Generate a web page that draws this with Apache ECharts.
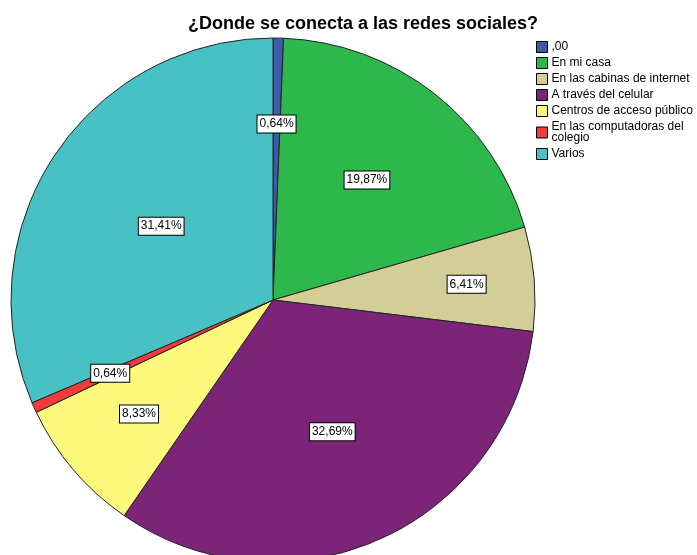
<!DOCTYPE html>
<html>
<head>
<meta charset="utf-8">
<script src="https://cdn.jsdelivr.net/npm/echarts@6/dist/echarts.min.js"></script>
<style>
  html, body { margin: 0; padding: 0; background: #fff; }
  #main { width: 697px; height: 555px; }
</style>
</head>
<body>
<div id="main"></div>
<script>
// categorias y porcentajes
var categorias = [',00', 'En mi casa', 'En las cabinas de internet', 'A través del celular',
  'Centros de acceso público', 'En las computadoras del colegio', 'Varios'];
var porcentajes = [0.64, 19.87, 6.41, 32.69, 8.33, 0.64, 31.41];
var colores = ['#3D5BA8', '#2DB84B', '#D3CD98', '#7B2478', '#FBF87C', '#EF3B3B', '#48C1C4'];
// distancia de la etiqueta al centro (fraccion del radio)
var distEtiqueta = [0.66, 0.57, 0.73, 0.54, 0.66, 0.67, 0.50];

var R = 262;
var myChart = echarts.init(document.getElementById('main'));

var total = porcentajes.reduce(function (a, b) { return a + b; }, 0);
var acum = 0;
var datos = categorias.map(function (c, i) {
  var mid = (acum + porcentajes[i] / 2) / total * Math.PI * 2;
  acum += porcentajes[i];
  var extra = (distEtiqueta[i] - 0.5) * R;
  return {
    name: c,
    value: porcentajes[i],
    itemStyle: { color: colores[i] },
    label: { offset: [extra * Math.sin(mid), -extra * Math.cos(mid)] }
  };
});

myChart.setOption({
  animation: false,
  title: {
    text: '¿Donde se conecta a las redes sociales?',
    left: 358,
    textAlign: 'center',
    top: 10,
    textStyle: { fontSize: 18, fontWeight: 'bold', color: '#000', fontFamily: 'Arial, Liberation Sans' }
  },
  legend: {
    orient: 'vertical',
    left: 531,
    top: 36,
    itemWidth: 11,
    itemHeight: 11,
    itemGap: 4,
    icon: 'rect',
    itemStyle: { borderColor: '#000', borderWidth: 1 },
    formatter: function (n) {
      return n === 'En las computadoras del colegio' ? 'En las computadoras del\ncolegio' : n;
    },
    textStyle: { fontSize: 12, color: '#000', fontFamily: 'Arial, Liberation Sans', padding: [0, 0, 0, -1], lineHeight: 11 },
    data: categorias
  },
  series: [{
    type: 'pie',
    center: [273, 300],
    radius: R,
    startAngle: 90,
    clockwise: true,
    avoidLabelOverlap: false,
    emphasis: { disabled: true },
    itemStyle: { borderColor: '#222', borderWidth: 1 },
    label: {
      position: 'inside',
      formatter: function (p) { return p.value.toFixed(2).replace('.', ',') + '%'; },
      color: '#000',
      fontSize: 12,
      fontFamily: 'Arial, Liberation Sans',
      backgroundColor: '#fff',
      borderColor: '#000',
      borderWidth: 1,
      padding: [3, 2, 2, 2]
    },
    labelLine: { show: false },
    data: datos
  }]
});
</script>
</body>
</html>
